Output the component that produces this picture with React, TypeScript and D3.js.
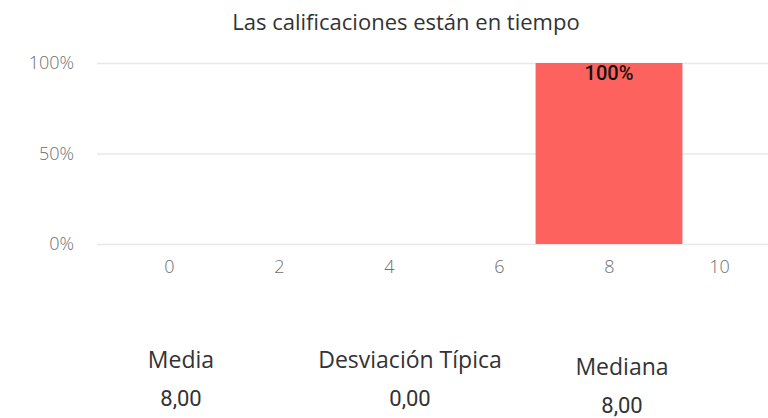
import * as d3 from "d3";
import { useRef, useEffect } from "react";

const title = "Las calificaciones están en tiempo";
const grades = [8];
const shares = [1];
const xTicks = [0, 2, 4, 6, 8, 10];
const yTicks = [0, 0.5, 1];
const statLabels = ["Media", "Desviación Típica", "Mediana"];
const statValues = ["8,00", "0,00", "8,00"];

const width = 768;
const height = 418;
const marginLeft = 97;
const gridTop = 63;
const gridBottom = 244;
const barColor = "#fd625e";
const font = "'Segoe UI', 'Open Sans', sans-serif";

export default function App() {
  const gx = useRef<SVGGElement>(null);
  const gy = useRef<SVGGElement>(null);

  const x = d3.scaleLinear().domain([0, 10]).range([169, 719]);
  const y = d3.scaleLinear().domain([0, 1]).range([gridBottom, gridTop]);
  const barHalf = 1.335; // half bar width in grade units

  useEffect(() => {
    if (gy.current) {
      const g = d3.select(gy.current);
      g.call(
        d3
          .axisLeft(y)
          .tickValues(yTicks)
          .tickSize(-(width - marginLeft))
          .tickPadding(23)
          .tickFormat((d) => d3.format(".0%")(d as number))
      );
      g.select(".domain").remove();
      g.selectAll(".tick line").attr("stroke", "#e8e8e8").attr("stroke-width", 1.5);
      g.selectAll(".tick text")
        .attr("fill", "#6f6f6f")
        .attr("font-size", 18)
        .attr("font-weight", 300)
        .attr("font-family", font);
    }
  }, [y]);

  useEffect(() => {
    if (gx.current) {
      const g = d3.select(gx.current);
      g.call(d3.axisBottom(x).tickValues(xTicks).tickSize(0).tickPadding(16));
      g.select(".domain").remove();
      g.selectAll(".tick text")
        .attr("fill", "#6f6f6f")
        .attr("font-size", 18)
        .attr("font-weight", 300)
        .attr("font-family", font);
    }
  }, [x]);

  const statX = [181, 410, 622];
  const statY = [368, 368, 375];

  return (
    <div style={{ position: "absolute", left: 0, top: 0 }}>
      <svg width={width} height={height} style={{ display: "block", background: "#fff" }}>
        <text
          x={406}
          y={30}
          textAnchor="middle"
          fontFamily={font}
          fontSize={22}
          fill="#333"
        >
          {title}
        </text>
        <g ref={gy} transform={`translate(${marginLeft},0)`} />
        <g ref={gx} transform={`translate(0,${gridBottom})`} />
        {grades.map((g, i) => (
          <g key={g}>
            <rect
              x={x(g - barHalf)}
              y={y(shares[i])}
              width={x(g + barHalf) - x(g - barHalf)}
              height={y(0) - y(shares[i])}
              fill={barColor}
            />
            <text
              x={x(g)}
              y={y(shares[i]) + 17}
              textAnchor="middle"
              fontFamily="Roboto, sans-serif"
              fontWeight={500}
              fontSize={20}
              fill="#111"
            >
              {d3.format(".0%")(shares[i])}
            </text>
          </g>
        ))}
        {statLabels.map((s, i) => (
          <g key={s}>
            <text
              x={statX[i]}
              y={statY[i]}
              textAnchor="middle"
              fontFamily={font}
              fontSize={23}
              fill="#333"
            >
              {s}
            </text>
            <text
              x={statX[i]}
              y={statY[i] + 38}
              textAnchor="middle"
              fontFamily="Roboto, sans-serif"
              fontWeight={400}
              fontSize={22}
              fill="#333"
            >
              {statValues[i]}
            </text>
          </g>
        ))}
      </svg>
    </div>
  );
}
